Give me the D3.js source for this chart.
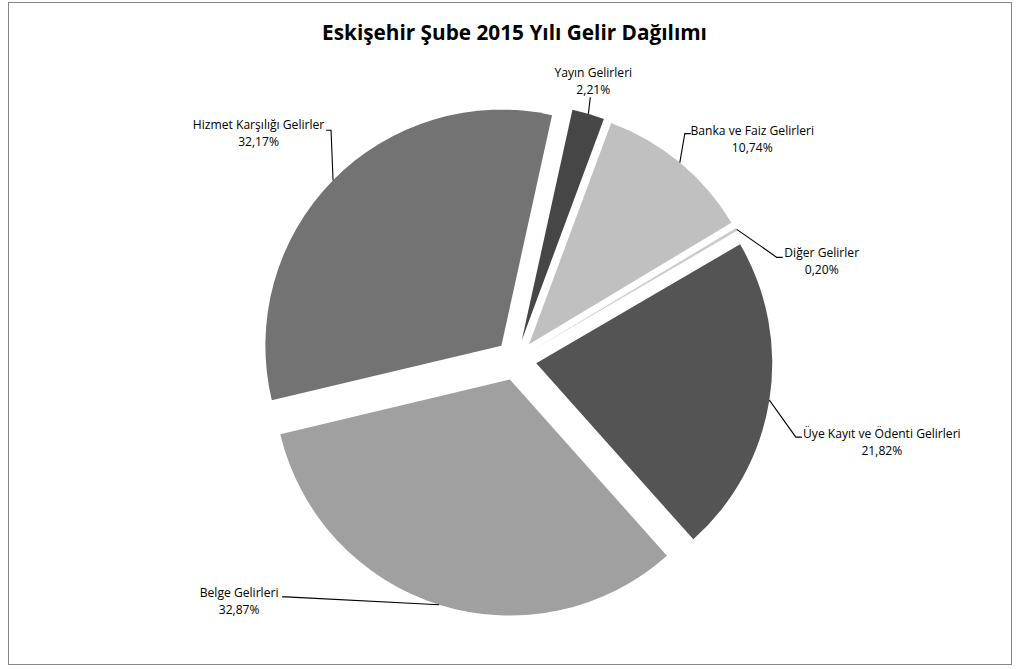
<!DOCTYPE html>
<html>
<head>
<meta charset="utf-8">
<script src="https://cdn.jsdelivr.net/npm/d3@7"></script>
<style>
  html, body { margin: 0; padding: 0; background: #fff; }
  svg { display: block; }
  text { font-family: "Open Sans", "Noto Sans", sans-serif; fill: #000; }
</style>
</head>
<body>
<svg id="chart" width="1020" height="669"></svg>
<script>
// ---- data ----
const title = "Eskişehir Şube 2015 Yılı Gelir Dağılımı";
const categories = [
  "Yayın Gelirleri",
  "Banka ve Faiz Gelirleri",
  "Diğer Gelirler",
  "Üye Kayıt ve Ödenti Gelirleri",
  "Belge Gelirleri",
  "Hizmet Karşılığı Gelirler"
];
const values = [2.21, 10.74, 0.20, 21.82, 32.87, 32.17];
const percentLabels = ["2,21%", "10,74%", "0,20%", "21,82%", "32,87%", "32,17%"];

// ---- styles / layout ----
const colors = ["#464646", "#c0c0c0", "#cbcbcb", "#545454", "#a0a0a0", "#737373"];
const cx = 516, cy = 360, radius = 236, explode = 20.5;
const startDeg = 12.4;
// label layout: offsets relative to leader start point on slice edge
const labelLayout = [
  { leader: [[2, -16.5]],            text: [5, -37] },
  { leader: [[5, -29], [11, -29]],   text: [72.5, -27.5] },
  { leader: [[40, 28], [46, 28]],    text: [85, 27.7] },
  { leader: [[26.5, 37], [32.5, 37]],text: [112.5, 37.7] },
  { leader: [[-153, -7.8], [-157, -7.8]], text: [-200, -7.3] },
  { leader: [[-2, -50], [-7, -50]],  text: [-74.5, -51] }
];
const lineGap = 16.7;

const svg = d3.select("#chart");

// chart border
svg.append("rect")
  .attr("x", 8.5).attr("y", 2.5)
  .attr("width", 1003).attr("height", 662)
  .attr("fill", "#fff")
  .attr("stroke", "#868686")
  .attr("stroke-width", 1);

// title
const titleEl = svg.append("text")
  .attr("x", 514.5).attr("y", 40)
  .attr("text-anchor", "middle")
  .attr("font-weight", "bold")
  .attr("font-size", 20)
  .text(title);
{
  const w = titleEl.node().getComputedTextLength();
  titleEl.attr("font-size", 20 * 385 / w);
}

const data = categories.map((c, i) => ({ name: c, value: values[i], pct: percentLabels[i], i }));

const start = startDeg * Math.PI / 180;
const pie = d3.pie().sort(null).value(d => d.value)
  .startAngle(start).endAngle(start + 2 * Math.PI);
const arcs = pie(data);
const arc = d3.arc().innerRadius(0).outerRadius(radius);

const g = svg.append("g").attr("transform", `translate(${cx},${cy})`);

g.selectAll("path.slice")
  .data(arcs)
  .join("path")
  .attr("class", "slice")
  .attr("d", arc)
  .attr("fill", (d, i) => colors[i])
  .attr("transform", d => {
    const m = (d.startAngle + d.endAngle) / 2;
    return `translate(${explode * Math.sin(m)},${-explode * Math.cos(m)})`;
  });

// label font size fit
const probe = svg.append("text").attr("font-size", 13).text("Hizmet Karşılığı Gelirler");
const labelSize = 13 * 131.5 / probe.node().getComputedTextLength();
probe.remove();

arcs.forEach((d, i) => {
  const m = (d.startAngle + d.endAngle) / 2;
  const rr = radius + explode;
  const sx = cx + rr * Math.sin(m), sy = cy - rr * Math.cos(m);
  const L = labelLayout[i];
  const pts = [[sx, sy]].concat(L.leader.map(p => [sx + p[0], sy + p[1]]));
  svg.append("path")
    .attr("d", d3.line()(pts))
    .attr("fill", "none")
    .attr("stroke", "#000")
    .attr("stroke-width", 1.1);
  const t = svg.append("text")
    .attr("text-anchor", "middle")
    .attr("font-size", labelSize);
  t.append("tspan").attr("x", sx + L.text[0]).attr("y", sy + L.text[1]).text(d.data.name);
  t.append("tspan").attr("x", sx + L.text[0]).attr("y", sy + L.text[1] + lineGap).text(d.data.pct);
});
</script>
</body>
</html>
